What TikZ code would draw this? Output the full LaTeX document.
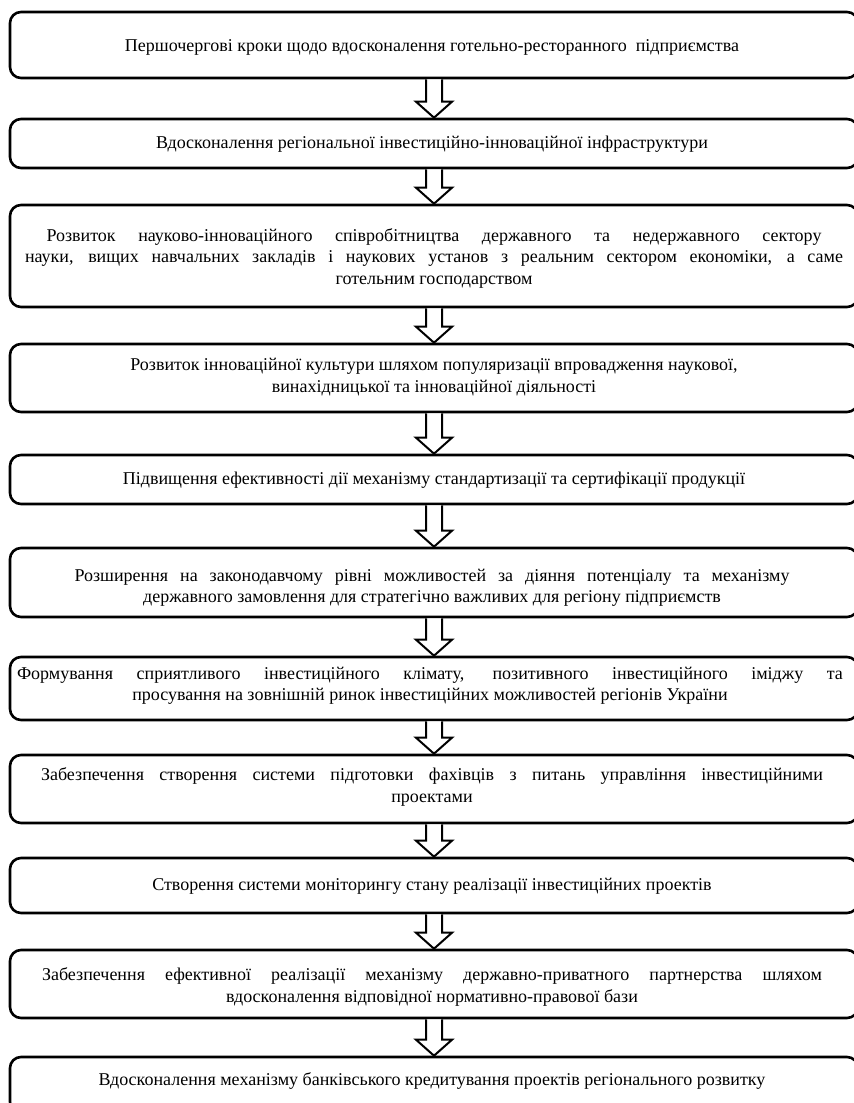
\documentclass[tikz,border=0pt]{standalone}
\usepackage{fontspec}
\setmainfont{Liberation Serif}
\usetikzlibrary{calc}
\tikzset{
  stepbox/.style={draw=black, line width=2.6pt, rounded corners=11pt,
    minimum width=848pt, inner sep=0pt},
  steptext/.style={align=center, inner sep=0pt,
    font=\fontsize{18}{21.5}\selectfont},
  blockarrow/.style={draw=black, line width=2pt, fill=white, line join=miter}
}
\newcommand{\blockarr}[2]{%
  \draw[blockarrow] ($(#1.south)+(-8,0)$) -- ($(#2.north)+(-8,16)$) -- ($(#2.north)+(-18,16)$)
   -- (#2.north) -- ($(#2.north)+(18,16)$) -- ($(#2.north)+(8,16)$) -- ($(#1.south)+(8,0)$);}
\newcommand{\jline}[2]{\makebox[#1pt][s]{#2}}
\begin{document}
\begin{tikzpicture}[x=1pt,y=1pt]
\useasboundingbox (0,0) rectangle (854,-1103);
\fill[white] (0,0) rectangle (854,-1103);
\clip (0,0) rectangle (854,-1103);
% boxes: centre y = -(top+bottom)/2, height = bottom-top
\node[stepbox, minimum height=66pt] (b1)  at (434,-45)    {};
\node[stepbox, minimum height=49pt] (b2)  at (434,-143.5) {};
\node[stepbox, minimum height=102pt] (b3) at (434,-256)   {};
\node[stepbox, minimum height=68pt] (b4)  at (434,-378)   {};
\node[stepbox, minimum height=49pt] (b5)  at (434,-479.5) {};
\node[stepbox, minimum height=69pt] (b6)  at (434,-582.5) {};
\node[stepbox, minimum height=63pt] (b7)  at (434,-688.5) {};
\node[stepbox, minimum height=68pt] (b8)  at (434,-789)   {};
\node[stepbox, minimum height=55pt] (b9)  at (434,-885.5) {};
\node[stepbox, minimum height=68pt] (b10) at (434,-984)   {};
\node[stepbox, minimum height=56pt] (b11) at (434,-1085)  {};
% texts
\node[steptext] (t1)  at (432,-47)  {Першочергові кроки щодо вдосконалення готельно-ресторанного~ підприємства};
\node[steptext] (t2)  at (432,-144) {Вдосконалення регіональної інвестиційно-інноваційної інфраструктури};
\node[steptext] (t3)  at (434,-258) {\jline{775}{Розвиток науково-інноваційного співробітництва державного та недержавного сектору}\\
  \jline{818}{науки, вищих навчальних закладів і наукових установ з реальним сектором економіки, а саме}\\
  готельним господарством};
\node[steptext] (t4)  at (434,-377) {Розвиток інноваційної культури шляхом популяризації впровадження наукової,\\ винахідницької та інноваційної діяльності};
\node[steptext] (t5)  at (434,-480) {Підвищення ефективності дії механізму стандартизації та сертифікації продукції};
\node[steptext] (t6)  at (432,-588) {\jline{715}{Розширення на законодавчому рівні можливостей за діяння потенціалу та механізму}\\ державного замовлення для стратегічно важливих для регіону підприємств};
\node[steptext] (t7)  at (430,-686) {\jline{826}{Формування сприятливого інвестиційного клімату, позитивного інвестиційного іміджу та}\\ просування на зовнішній ринок інвестиційних можливостей регіонів України};
\node[steptext] (t8)  at (432,-787) {\jline{782}{Забезпечення створення системи підготовки фахівців з питань управління інвестиційними}\\ проектами};
\node[steptext] (t9)  at (432,-886) {Створення системи моніторингу стану реалізації інвестиційних проектів};
\node[steptext] (t10) at (432,-987) {\jline{780}{Забезпечення ефективної реалізації механізму державно-приватного партнерства шляхом}\\ вдосконалення відповідної нормативно-правової бази};
\node[steptext] (t11) at (432,-1081) {Вдосконалення механізму банківського кредитування проектів регіонального розвитку};
\blockarr{b1}{b2}
\blockarr{b2}{b3}
\blockarr{b3}{b4}
\blockarr{b4}{b5}
\blockarr{b5}{b6}
\blockarr{b6}{b7}
\blockarr{b7}{b8}
\blockarr{b8}{b9}
\blockarr{b9}{b10}
\blockarr{b10}{b11}
\end{tikzpicture}
\end{document}
